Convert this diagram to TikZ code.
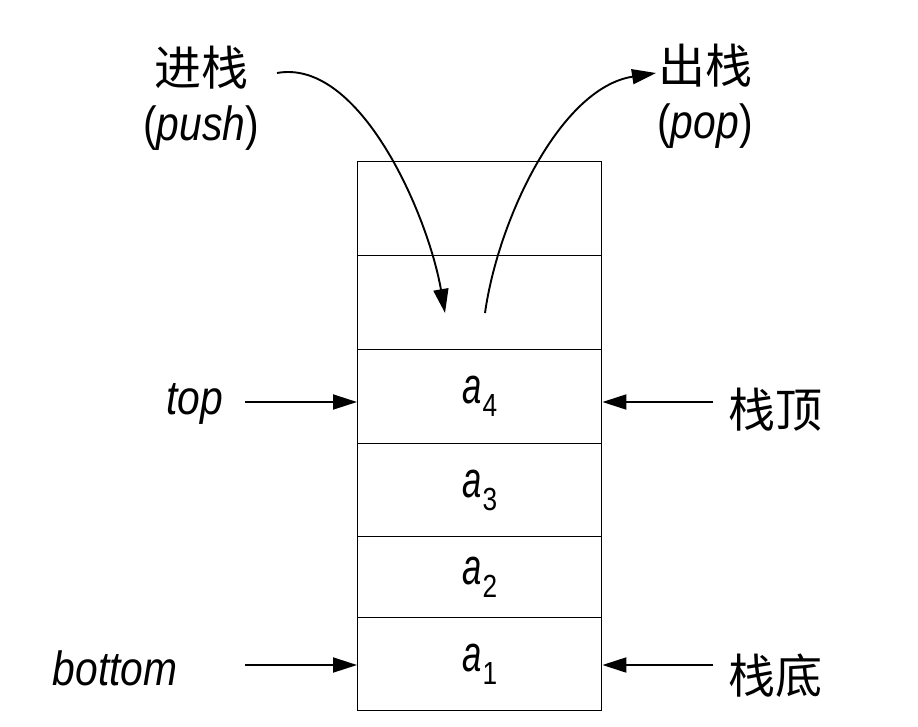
\documentclass[tikz,border=0pt]{standalone}
\usepackage{fontspec}
\setmainfont{Liberation Sans}
\newfontfamily\cjk{Noto Sans CJK SC}
\usetikzlibrary{arrows.meta}
\newcommand\nx[1]{\scalebox{0.85}[1]{#1}}
\newcommand\elem[1]{\scalebox{0.68}[1]{\fontsize{51}{54}\selectfont\itshape a}\kern1pt\raisebox{-13pt}{\scalebox{0.82}[1]{\fontsize{32}{36}\selectfont #1}}}
\begin{document}
\begin{tikzpicture}[x=1pt,y=-1pt,
  cell/.style={draw,line width=1.4pt,minimum width=244pt,inner sep=0pt,anchor=north west},
  lbl/.style={font=\fontsize{48}{54}\selectfont\itshape,inner sep=0pt},
  plain/.style={font=\fontsize{48}{54}\selectfont,inner sep=0pt},
  cn/.style={font=\fontsize{47}{54}\cjk,inner sep=0pt},
  arr/.style={line width=1.9pt,-{Triangle[length=24pt,width=15pt]}}]
\useasboundingbox (0,0) rectangle (918,726);
% stack cells
\node[cell,minimum height=94pt] (c6) at (357,161) {};
\node[cell,minimum height=94pt] (c5) at (357,255) {};
\node[cell,minimum height=94pt] (c4) at (357,349) {\elem{4}};
\node[cell,minimum height=93pt] (c3) at (357,443) {\elem{3}};
\node[cell,minimum height=81pt] (c2) at (357,536) {\elem{2}};
\node[cell,minimum height=93pt] (c1) at (357,617) {\elem{1}};
% labels
\node[cn] (push) at (201,68) {进栈};
\node[plain] (pushen) at (201,128) {\nx{(\textit{push})}};
\node[cn] (pop) at (705,66) {出栈};
\node[plain] (popen) at (705,126) {\nx{(\textit{pop})}};
\node[lbl] (top) at (195,404) {\nx{top}};
\node[lbl] (bottom) at (115,668) {\nx{bottom}};
\node[cn] (ztop) at (775,410) {栈顶};
\node[cn] (zbot) at (775,676) {栈底};
% connector ends
\coordinate (pushs) at (277,73);
\coordinate (pushe) at (445,313);
\coordinate (pops) at (485,313);
\coordinate (pope) at (656,73);
\coordinate (topl) at (245,402);
\coordinate (botl) at (245,665);
\coordinate (topr) at (713,402);
\coordinate (botr) at (713,665);
% arrows
\draw[arr] (pushs) .. controls (360,58) and (428,215) .. (pushe);
\draw[arr] (pops) .. controls (498,220) and (560,88) .. (pope);
\draw[arr] (topl) -- (topl -| c4.west);
\draw[arr] (botl) -- (botl -| c1.west);
\draw[arr] (topr) -- (topr -| c4.east);
\draw[arr] (botr) -- (botr -| c1.east);
\end{tikzpicture}
\end{document}
